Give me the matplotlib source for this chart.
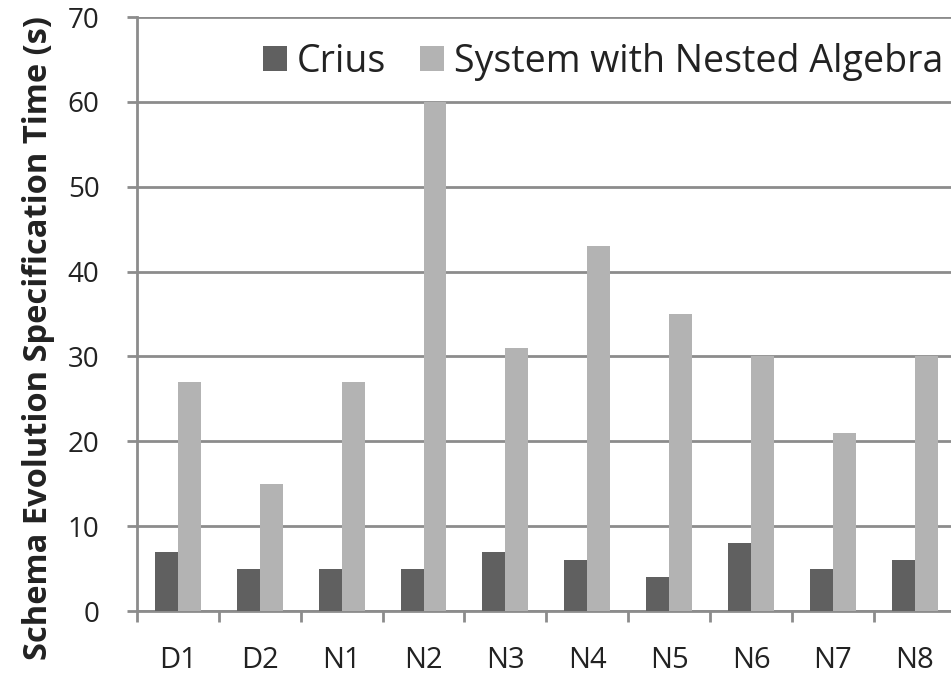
import numpy as np
import matplotlib.pyplot as plt

categories = ['D1', 'D2', 'N1', 'N2', 'N3', 'N4', 'N5', 'N6', 'N7', 'N8']
crius = [7, 5, 5, 5, 7, 6, 4, 8, 5, 6]
nested = [27, 15, 27, 60, 31, 43, 35, 30, 21, 30]

plt.rcParams['font.family'] = ['Open Sans', 'DejaVu Sans']

fig = plt.figure(figsize=(9.51, 6.78), dpi=100)
ax = fig.add_axes([0.144, 0.0988, 0.861, 0.876])

x = np.arange(len(categories))
w = 0.28
ax.bar(x - w / 2, crius, w, color='#606060', label='Crius', zorder=3)
ax.bar(x + w / 2, nested, w, color='#b3b3b3', label='System with Nested Algebra', zorder=3)

ax.set_xlim(-0.5, 9.5)
ax.set_ylim(0, 70)
ax.set_yticks(range(0, 71, 10))
ax.yaxis.grid(True, color='#8c8c8c', linewidth=2, zorder=0)

ax.set_xticks(x)
ax.set_xticklabels(categories)
ax.set_xticks(np.arange(-0.5, 10, 1), minor=True)
ax.tick_params(axis='x', which='major', length=0, pad=25, labelsize=21, labelcolor='#222222')
ax.tick_params(axis='x', which='minor', length=8, width=2, color='#8c8c8c', direction='out')
ax.tick_params(axis='y', length=7, width=2, color='#8c8c8c', pad=20, labelsize=20, labelcolor='#222222')

for s in ['top', 'right']:
    ax.spines[s].set_visible(False)
for s in ['left', 'bottom']:
    ax.spines[s].set_color('#8c8c8c')
    ax.spines[s].set_linewidth(2)

ax.set_ylabel('Schema Evolution Specification Time (s)', fontsize=23.5, fontweight='bold',
              color='#222222')
ax.yaxis.set_label_coords(-0.100, 0.46)

ax.legend(loc='center left', bbox_to_anchor=(0.154, 0.925), ncol=2, frameon=False,
          fontsize=27, handlelength=0.64, handleheight=0.64, handletextpad=0.27,
          columnspacing=0.9, borderpad=0, borderaxespad=0, labelcolor='#222222')

fig.savefig('out.png', dpi=100)
